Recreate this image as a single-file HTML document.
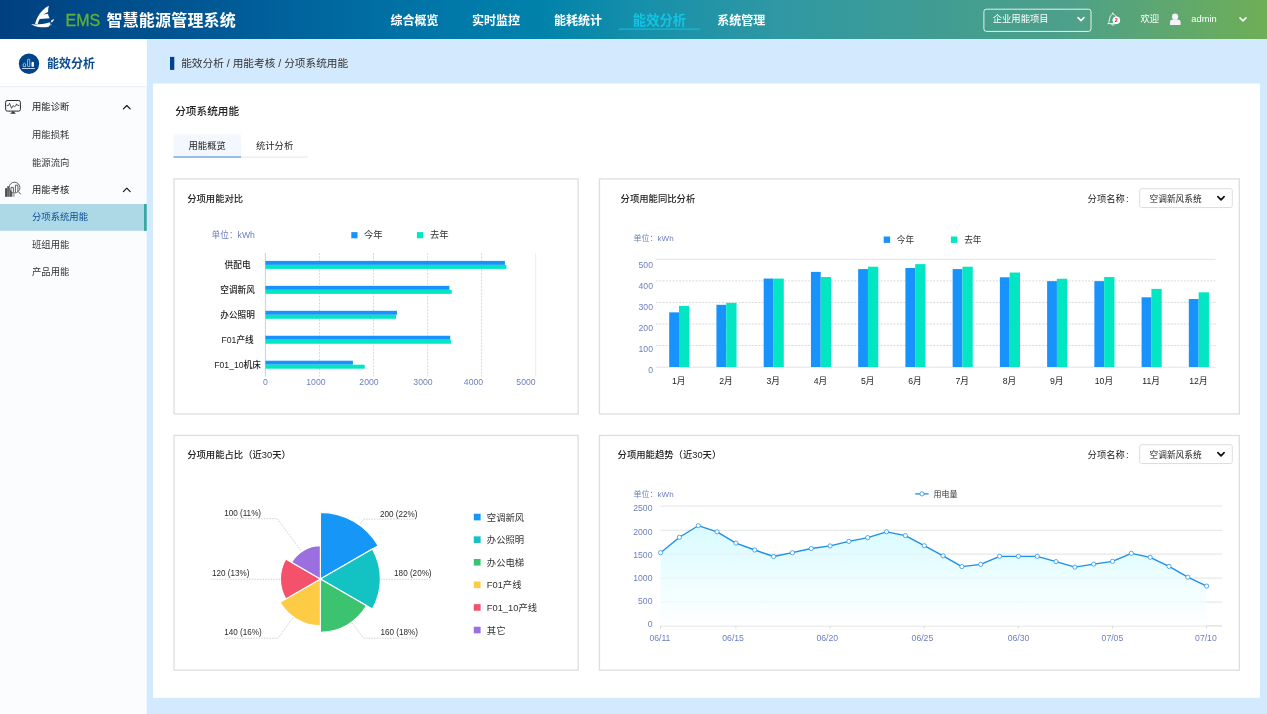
<!DOCTYPE html>
<html lang="zh-CN"><head><meta charset="utf-8"><title>EMS 智慧能源管理系统</title><style>
*{box-sizing:border-box;margin:0;padding:0}
html,body{width:1267px;height:714px;overflow:hidden}
body{background:#d3e9fd;font-family:"Liberation Sans","Noto Sans CJK SC",sans-serif;color:#333;position:relative;font-size:9.33px}
.abs{position:absolute;white-space:nowrap}
.t{position:absolute;white-space:nowrap;transform:translateY(-50%);line-height:1.2}
.tc{position:absolute;white-space:nowrap;transform:translate(-50%,-50%);line-height:1.2}
#hdr{position:absolute;left:0;top:0;width:1267px;height:39px}
#side{position:absolute;left:0;top:39px;width:146.7px;height:675px;background:#fafcfe}
#sidetop{position:absolute;left:0;top:0;width:146.7px;height:47.6px;background:#fff;border-bottom:1px solid #eef0f2}
#panel{position:absolute;left:153px;top:83.5px;width:1107px;height:614.3px;background:#fff}
.card{position:absolute;border:1.33px solid #e2e2e2;background:#fff}
svg{position:absolute;left:0;top:0;overflow:visible}
svg text{font-family:"Liberation Sans","Noto Sans CJK SC",sans-serif}
</style></head><body>
<svg width="1267" height="714" viewBox="0 0 1267 714"><defs><linearGradient id="hg" x1="0" y1="0" x2="1" y2="0"><stop offset="0%" stop-color="#004080"/><stop offset="19%" stop-color="#005c98"/><stop offset="34.7%" stop-color="#0077a8"/><stop offset="42.6%" stop-color="#0082ab"/><stop offset="50.5%" stop-color="#1690aa"/><stop offset="61.6%" stop-color="#2f98a3"/><stop offset="77.3%" stop-color="#459e8e"/><stop offset="84.2%" stop-color="#4da08a"/><stop offset="100%" stop-color="#6fae56"/></linearGradient></defs><rect x="0" y="39" width="146.7" height="675" fill="#fafcfe"/>
<rect x="0" y="39" width="146.7" height="47.3" fill="#fff"/>
<rect x="0" y="86.2" width="146.7" height=".9" fill="#eceef1"/>
<rect x="0" y="204" width="146.7" height="26.8" fill="#add8e6"/>
<rect x="144" y="204" width="2.7" height="26.8" fill="#3ba6a3"/>
<rect x="170" y="56.9" width="4.3" height="13" fill="#004489"/>
<rect x="153" y="83.5" width="1107" height="614.3" fill="#fff"/>
<rect x="173.5" y="134.4" width="67.5" height="22.2" fill="#f3f8fe"/>
<rect x="173.5" y="156.5" width="67.5" height="1" fill="#3b82c9"/>
<rect x="241" y="156.7" width="67" height=".8" fill="#dfe2e6"/>
<rect x="174.05" y="178.85" width="404.1" height="235.1" fill="#fff" stroke="#dedede" stroke-width="1.3"/>
<rect x="599.45" y="178.85" width="639.9" height="235.1" fill="#fff" stroke="#dedede" stroke-width="1.3"/>
<rect x="174.05" y="435.45" width="404.1" height="234.7" fill="#fff" stroke="#dedede" stroke-width="1.3"/>
<rect x="599.45" y="435.45" width="639.9" height="234.7" fill="#fff" stroke="#dedede" stroke-width="1.3"/>
<rect x="1139.7" y="188.65" width="92.6" height="18.9" rx="2" fill="#fff" stroke="#d9d9d9" stroke-width=".9"/>
<rect x="1139.7" y="444.65" width="92.6" height="18.9" rx="2" fill="#fff" stroke="#d9d9d9" stroke-width=".9"/>
<rect x="0" y="0" width="1267" height="39" fill="url(#hg)"/>
<rect x="619" y="28.6" width="81" height="1" fill="#12c4e4"/>
<rect x="983.9" y="9.2" width="107.1" height="22.2" rx="2.5" fill="none" stroke="#fff" stroke-opacity=".85" stroke-width="1"/></svg>
<div id="hdr">
<svg width="1267" height="39" viewBox="0 0 1267 39">
<g fill="#fff">
<path d="M48.9 5.8 C44.6 7.8 40.6 11.8 37.6 17.2 C36.1 20.2 35.3 22.4 35.1 24 L37.7 24.1 C38 22.4 38.7 20.6 39.7 19 L49.7 18.3 C48.7 16.7 48.2 15.2 48 13.7 L43.2 14.5 L48.1 12.1 C48 10 48.3 7.8 48.9 5.8 Z"/>
<path d="M31 24.3 C36 24.7 44 24.3 50.3 22.2 C50.5 24 49.7 26 48.7 26.8 C44 27.9 38 27.3 34.6 25.9 Z"/>
<path d="M51.1 20.5 L54 18.9 C53.7 20.7 52.6 22.1 51.2 22.5 Z"/>
<circle cx="50.9" cy="24.8" r=".6"/>
</g>
</svg>
<div class="t" style="left:65.5px;top:20.5px;font-size:16px;color:#5fb233;-webkit-text-stroke:.3px #5fb233">EMS</div>
<div class="t" style="left:106.4px;top:20.9px;font-size:16px;font-weight:bold;color:#fff;letter-spacing:0.2px">智慧能源管理系统</div>
<div class="tc" style="left:414.4px;top:21.1px;font-size:12px;font-weight:bold;color:#fff;">综合概览</div>
<div class="tc" style="left:496px;top:21.1px;font-size:12px;font-weight:bold;color:#fff;">实时监控</div>
<div class="tc" style="left:578px;top:21.1px;font-size:12px;font-weight:bold;color:#fff;">能耗统计</div>
<div class="tc" style="left:659.5px;top:20.6px;font-size:13.33px;font-weight:bold;color:#12c4e4;">能效分析</div>
<div class="tc" style="left:741.2px;top:21.1px;font-size:12px;font-weight:bold;color:#fff;">系统管理</div>
<div class="t" style="left:992.7px;top:19.8px;font-size:9.33px;color:#fff;">企业用能项目</div>
<svg width="1267" height="39" viewBox="0 0 1267 39">
<path d="M1078 17.6 L1081 20.6 L1084 17.6" fill="none" stroke="#fff" stroke-width="1.5" stroke-linecap="round" stroke-linejoin="round"/>
<path d="M1240 17.9 L1243 20.9 L1246 17.9" fill="none" stroke="#fff" stroke-width="1.5" stroke-linecap="round" stroke-linejoin="round"/>
<g fill="none" stroke="#fff" stroke-width=".9" stroke-linejoin="round" stroke-linecap="round">
<path d="M1108 23.6 L1117 23.6 M1108.6 23.4 C1109.8 21 1108.8 15.6 1112.8 13.8 C1115.4 14.6 1116.2 16.4 1116.4 18"/>
<path d="M1112.8 13.8 L1112.8 12.9"/>
<path d="M1111.6 24.4 C1112 25.7 1113.6 25.7 1114 24.4"/>
</g>
<circle cx="1116.3" cy="20.2" r="3.8" fill="#fff"/>
<g fill="#f4f4f8">
<circle cx="1175.1" cy="16.7" r="3.1"/>
<path d="M1170 25 L1170 22 C1170 20.4 1171.2 19.6 1172.6 19.5 L1177.8 19.5 C1179.3 19.6 1180.6 20.4 1180.6 22 L1180.6 25Z"/>
</g>
</svg>
<div class="tc" style="left:1116.3px;top:20.2px;font-size:5.4px;font-weight:bold;color:#e0142c;">2</div>
<div class="t" style="left:1140.4px;top:19.8px;font-size:9.33px;color:#fff;">欢迎</div>
<div class="t" style="left:1191.3px;top:19.6px;font-size:9.33px;color:#fff;">admin</div>
</div>
<svg width="147" height="300" viewBox="0 0 147 300">
<circle cx="29" cy="63.8" r="10.2" fill="#004489"/>
<g fill="none" stroke="#fff" stroke-width=".6">
<path d="M23.2 66.6 V64 Q24.4 62.4 25.6 64 V66.6 Z"/>
<rect x="27.6" y="59.2" width="2.2" height="7.4" rx=".7"/>
</g>
<path d="M31.5 66.8 V62.4 Q32.7 61 33.9 62.4 V66.8Z" fill="#fff"/>
<rect x="22.1" y="68.1" width="12.8" height=".75" fill="#fff"/>
<g fill="none" stroke="#2a2a2a" stroke-width="1" stroke-linejoin="round" stroke-linecap="round">
<rect x="5.6" y="100.5" width="14.8" height="10.6" rx="1.7"/>
<path d="M11 113.4 L15.4 113.4 L13.2 111.4Z" fill="#2a2a2a" stroke-width=".5"/>
<path d="M7 105.5 L8.7 105.4 L9.5 103.2 L11.6 108.3 L13.1 105.6 L14.6 106.7 L15.7 106 L16.6 103.9 L17.8 105.5 L18.9 105.5" stroke-width=".8"/>
<path d="M123.4 108.9 L126.8 105.5 L130.2 108.9" stroke-width="1.15" stroke="#111"/>
<path d="M123.4 191.6 L126.8 188.2 L130.2 191.6" stroke-width="1.15" stroke="#111"/>
</g>
<rect x="5.1" y="188.2" width="2" height="8.6" fill="#4a4a4a"/>
<rect x="7.1" y="186.2" width="2.7" height="10.6" fill="#6a6a6a"/>
<rect x="9.8" y="189" width="2.4" height="7.8" fill="#5a5a5a"/>
<rect x="12.4" y="193.6" width="2.3" height="3.2" fill="#b0b0b0"/>
<circle cx="14.5" cy="187.6" r="5.4" fill="#fafcfe" stroke="#222" stroke-width=".7"/>
<path d="M18.5 191.8 L20.8 194.3" stroke="#444" stroke-width=".9" fill="none"/>
<path d="M11 192 V187.4 H13.4 V192.6 M15.4 192.4 V185.2 H17.9 V191.6" stroke="#222" stroke-width=".7" fill="none"/>
</svg>
<div class="t" style="left:47px;top:64.3px;font-size:12px;font-weight:bold;color:#0a4c8e;">能效分析</div>
<div class="t" style="left:32px;top:107.9px;font-size:9.33px;color:#222;">用能诊断</div>
<div class="t" style="left:32px;top:136.3px;font-size:9.33px;color:#333;">用能损耗</div>
<div class="t" style="left:32px;top:164.4px;font-size:9.33px;color:#333;">能源流向</div>
<div class="t" style="left:32px;top:190.9px;font-size:9.33px;color:#222;">用能考核</div>
<div class="t" style="left:32px;top:218px;font-size:9.33px;color:#0a4f96;">分项系统用能</div>
<div class="t" style="left:32px;top:245.7px;font-size:9.33px;color:#333;">班组用能</div>
<div class="t" style="left:32px;top:272.6px;font-size:9.33px;color:#333;">产品用能</div>
<div class="t" style="left:181.2px;top:62.9px;font-size:10.67px;color:#333;">能效分析 / 用能考核 / 分项系统用能</div>
<div class="t" style="left:175.2px;top:111.2px;font-size:10.67px;font-weight:500;color:#222;">分项系统用能</div>
<div class="tc" style="left:207.2px;top:147px;font-size:9.33px;color:#222;">用能概览</div>
<div class="tc" style="left:274.6px;top:146.5px;font-size:9.33px;color:#222;">统计分析</div>
<div class="t" style="left:187.2px;top:199.9px;font-size:9.33px;font-weight:500;color:#222;">分项用能对比</div>
<div class="t" style="left:620.6px;top:199.9px;font-size:9.33px;font-weight:500;color:#222;">分项用能同比分析</div>
<div class="t" style="left:187.2px;top:456.4px;font-size:9.33px;font-weight:500;color:#222;">分项用能占比（近30天）</div>
<div class="t" style="left:617.6px;top:456.4px;font-size:9.33px;font-weight:500;color:#222;">分项用能趋势（近30天）</div>
<div class="t" style="left:1087.6px;top:199.7px;font-size:9.33px;color:#222;">分项名称<span style="margin-left:1px">:</span></div>
<div class="t" style="left:1149.6px;top:199.4px;font-size:8.67px;color:#222;">空调新风系统</div>
<div class="t" style="left:1087.6px;top:455.6px;font-size:9.33px;color:#222;">分项名称<span style="margin-left:1px">:</span></div>
<div class="t" style="left:1149.6px;top:455.3px;font-size:8.67px;color:#222;">空调新风系统</div>
<svg width="1267" height="714" viewBox="0 0 1267 714"><text x="211.6" y="235" font-size="8.67" fill="#6e7ebf" text-anchor="start" dominant-baseline="central" >单位：kWh</text>
<rect x="351.3" y="232.1" width="6.2" height="6.2" fill="#1793fb"/>
<text x="364" y="235.1" font-size="9.33" fill="#333" text-anchor="start" dominant-baseline="central" >今年</text>
<rect x="416.9" y="232.1" width="6.2" height="6.2" fill="#02e6c4"/>
<text x="430" y="235.1" font-size="9.33" fill="#333" text-anchor="start" dominant-baseline="central" >去年</text>
<path d="M265.4 253 V376.8" stroke="#c9cee2" stroke-width="1" fill="none"/>
<path d="M319.5 253 V376.6" stroke="#c8c8c8" stroke-width=".7" stroke-dasharray="2 1.3" fill="none"/>
<path d="M373.5 253 V376.6" stroke="#c8c8c8" stroke-width=".7" stroke-dasharray="2 1.3" fill="none"/>
<path d="M427.6 253 V376.6" stroke="#c8c8c8" stroke-width=".7" stroke-dasharray="2 1.3" fill="none"/>
<path d="M481.6 253 V376.6" stroke="#c8c8c8" stroke-width=".7" stroke-dasharray="2 1.3" fill="none"/>
<path d="M535.7 253 V376.6" stroke="#e6e6ec" stroke-width=".8" fill="none"/>
<text x="237.6" y="265.3" font-size="8.67" fill="#222" text-anchor="middle" dominant-baseline="central" font-weight="500">供配电</text>
<rect x="265.4" y="260.9" width="239.5" height="4" fill="#1793fb"/>
<rect x="265.4" y="264.9" width="241" height="4" fill="#02e6c4"/>
<text x="237.6" y="290.25" font-size="8.67" fill="#222" text-anchor="middle" dominant-baseline="central" font-weight="500">空调新风</text>
<rect x="265.4" y="285.85" width="184" height="4" fill="#1793fb"/>
<rect x="265.4" y="289.85" width="186.3" height="4" fill="#02e6c4"/>
<text x="237.6" y="315.2" font-size="8.67" fill="#222" text-anchor="middle" dominant-baseline="central" font-weight="500">办公照明</text>
<rect x="265.4" y="310.8" width="131.6" height="4" fill="#1793fb"/>
<rect x="265.4" y="314.8" width="130.6" height="4" fill="#02e6c4"/>
<text x="237.6" y="340.15" font-size="8.67" fill="#222" text-anchor="middle" dominant-baseline="central" font-weight="500">F01产线</text>
<rect x="265.4" y="335.75" width="184.8" height="4" fill="#1793fb"/>
<rect x="265.4" y="339.75" width="185.5" height="4" fill="#02e6c4"/>
<text x="237.6" y="365.1" font-size="8.67" fill="#222" text-anchor="middle" dominant-baseline="central" font-weight="500">F01_10机床</text>
<rect x="265.4" y="360.7" width="87.5" height="4" fill="#1793fb"/>
<rect x="265.4" y="364.7" width="99.3" height="4" fill="#02e6c4"/>
<text x="265.4" y="382.2" font-size="8.67" fill="#6e7ebf" text-anchor="middle" dominant-baseline="central" >0</text>
<text x="315.9" y="382.2" font-size="8.67" fill="#6e7ebf" text-anchor="middle" dominant-baseline="central" >1000</text>
<text x="369" y="382.2" font-size="8.67" fill="#6e7ebf" text-anchor="middle" dominant-baseline="central" >2000</text>
<text x="423" y="382.2" font-size="8.67" fill="#6e7ebf" text-anchor="middle" dominant-baseline="central" >3000</text>
<text x="473.5" y="382.2" font-size="8.67" fill="#6e7ebf" text-anchor="middle" dominant-baseline="central" >4000</text>
<text x="526" y="382.2" font-size="8.67" fill="#6e7ebf" text-anchor="middle" dominant-baseline="central" >5000</text>
<text x="633.6" y="238.4" font-size="8" fill="#6e7ebf" text-anchor="start" dominant-baseline="central" >单位：kWh</text>
<rect x="883.7" y="236.5" width="6.4" height="6.4" fill="#1793fb"/>
<text x="896.8" y="239.7" font-size="8.67" fill="#333" text-anchor="start" dominant-baseline="central" >今年</text>
<rect x="950.9" y="236.5" width="6.4" height="6.4" fill="#02e6c4"/>
<text x="964.2" y="239.7" font-size="8.67" fill="#333" text-anchor="start" dominant-baseline="central" >去年</text>
<path d="M656 259.4 H1215.5" stroke="#dfe3f0" stroke-width="1" fill="none"/>
<path d="M656 345.48 H1215.5" stroke="#c8c8c8" stroke-width=".7" stroke-dasharray="2 1.3" fill="none"/>
<path d="M656 323.96 H1215.5" stroke="#c8c8c8" stroke-width=".7" stroke-dasharray="2 1.3" fill="none"/>
<path d="M656 302.44 H1215.5" stroke="#c8c8c8" stroke-width=".7" stroke-dasharray="2 1.3" fill="none"/>
<path d="M656 280.92 H1215.5" stroke="#c8c8c8" stroke-width=".7" stroke-dasharray="2 1.3" fill="none"/>
<path d="M656 367.2 H1215.5" stroke="#e0e3ee" stroke-width="1" fill="none"/>
<text x="653" y="265" font-size="8.67" fill="#6e7ebf" text-anchor="end" dominant-baseline="central" >500</text>
<text x="653" y="285.9" font-size="8.67" fill="#6e7ebf" text-anchor="end" dominant-baseline="central" >400</text>
<text x="653" y="306.7" font-size="8.67" fill="#6e7ebf" text-anchor="end" dominant-baseline="central" >300</text>
<text x="653" y="327.9" font-size="8.67" fill="#6e7ebf" text-anchor="end" dominant-baseline="central" >200</text>
<text x="653" y="348.8" font-size="8.67" fill="#6e7ebf" text-anchor="end" dominant-baseline="central" >100</text>
<text x="653" y="369.8" font-size="8.67" fill="#6e7ebf" text-anchor="end" dominant-baseline="central" >0</text>
<rect x="669.2" y="312.34" width="9.8" height="54.66" fill="#1793fb"/>
<rect x="679" y="305.88" width="10.3" height="61.12" fill="#02e6c4"/>
<text x="678.8" y="380.9" font-size="8.67" fill="#222" text-anchor="middle" dominant-baseline="central" >1月</text>
<rect x="716.44" y="304.81" width="9.8" height="62.19" fill="#1793fb"/>
<rect x="726.24" y="302.87" width="10.3" height="64.13" fill="#02e6c4"/>
<text x="726.04" y="380.9" font-size="8.67" fill="#222" text-anchor="middle" dominant-baseline="central" >2月</text>
<rect x="763.68" y="278.55" width="9.8" height="88.45" fill="#1793fb"/>
<rect x="773.48" y="278.55" width="10.3" height="88.45" fill="#02e6c4"/>
<text x="773.28" y="380.9" font-size="8.67" fill="#222" text-anchor="middle" dominant-baseline="central" >3月</text>
<rect x="810.92" y="271.88" width="9.8" height="95.12" fill="#1793fb"/>
<rect x="820.72" y="277.05" width="10.3" height="89.95" fill="#02e6c4"/>
<text x="820.52" y="380.9" font-size="8.67" fill="#222" text-anchor="middle" dominant-baseline="central" >4月</text>
<rect x="858.16" y="269.08" width="9.8" height="97.92" fill="#1793fb"/>
<rect x="867.96" y="266.72" width="10.3" height="100.28" fill="#02e6c4"/>
<text x="867.76" y="380.9" font-size="8.67" fill="#222" text-anchor="middle" dominant-baseline="central" >5月</text>
<rect x="905.4" y="268.01" width="9.8" height="98.99" fill="#1793fb"/>
<rect x="915.2" y="264.13" width="10.3" height="102.87" fill="#02e6c4"/>
<text x="915" y="380.9" font-size="8.67" fill="#222" text-anchor="middle" dominant-baseline="central" >6月</text>
<rect x="952.64" y="269.08" width="9.8" height="97.92" fill="#1793fb"/>
<rect x="962.44" y="266.72" width="10.3" height="100.28" fill="#02e6c4"/>
<text x="962.24" y="380.9" font-size="8.67" fill="#222" text-anchor="middle" dominant-baseline="central" >7月</text>
<rect x="999.88" y="277.26" width="9.8" height="89.74" fill="#1793fb"/>
<rect x="1009.68" y="272.53" width="10.3" height="94.47" fill="#02e6c4"/>
<text x="1009.48" y="380.9" font-size="8.67" fill="#222" text-anchor="middle" dominant-baseline="central" >8月</text>
<rect x="1047.12" y="281.14" width="9.8" height="85.86" fill="#1793fb"/>
<rect x="1056.92" y="278.77" width="10.3" height="88.23" fill="#02e6c4"/>
<text x="1056.72" y="380.9" font-size="8.67" fill="#222" text-anchor="middle" dominant-baseline="central" >9月</text>
<rect x="1094.36" y="281.14" width="9.8" height="85.86" fill="#1793fb"/>
<rect x="1104.16" y="277.05" width="10.3" height="89.95" fill="#02e6c4"/>
<text x="1103.96" y="380.9" font-size="8.67" fill="#222" text-anchor="middle" dominant-baseline="central" >10月</text>
<rect x="1141.6" y="297.28" width="9.8" height="69.72" fill="#1793fb"/>
<rect x="1151.4" y="288.88" width="10.3" height="78.12" fill="#02e6c4"/>
<text x="1151.2" y="380.9" font-size="8.67" fill="#222" text-anchor="middle" dominant-baseline="central" >11月</text>
<rect x="1188.84" y="299" width="9.8" height="68" fill="#1793fb"/>
<rect x="1198.64" y="292.33" width="10.3" height="74.67" fill="#02e6c4"/>
<text x="1198.44" y="380.9" font-size="8.67" fill="#222" text-anchor="middle" dominant-baseline="central" >12月</text>
<path d="M320.4 579 L320.4 512.33 A66.67 66.67 0 0 1 378.14 545.67 Z" fill="#1696f6" stroke="#fff" stroke-width="1.2" stroke-linejoin="round"/>
<path d="M320.4 579 L372.36 549 A60 60 0 0 1 372.36 609 Z" fill="#13c2c2" stroke="#fff" stroke-width="1.2" stroke-linejoin="round"/>
<path d="M320.4 579 L366.59 605.67 A53.33 53.33 0 0 1 320.4 632.33 Z" fill="#3cc36f" stroke="#fff" stroke-width="1.2" stroke-linejoin="round"/>
<path d="M320.4 579 L320.4 625.67 A46.67 46.67 0 0 1 279.99 602.33 Z" fill="#fecb45" stroke="#fff" stroke-width="1.2" stroke-linejoin="round"/>
<path d="M320.4 579 L285.76 599 A40 40 0 0 1 285.76 559 Z" fill="#f4516c" stroke="#fff" stroke-width="1.2" stroke-linejoin="round"/>
<path d="M320.4 579 L291.53 562.33 A33.33 33.33 0 0 1 320.4 545.67 Z" fill="#9c6fe0" stroke="#fff" stroke-width="1.2" stroke-linejoin="round"/>
<path d="M360.3 523.8 L363.6 519.1 H417.4" stroke="#c4c7d0" stroke-width=".8" stroke-dasharray="1.6 1.1" fill="none"/>
<path d="M380.6 579.2 H431.3" stroke="#c4c7d0" stroke-width=".8" stroke-dasharray="1.6 1.1" fill="none"/>
<path d="M352 622.7 L363.6 638.2 H417.4" stroke="#c4c7d0" stroke-width=".8" stroke-dasharray="1.6 1.1" fill="none"/>
<path d="M293 617.8 L278 638.2 H224.2" stroke="#c4c7d0" stroke-width=".8" stroke-dasharray="1.6 1.1" fill="none"/>
<path d="M280.2 579.2 H211.2" stroke="#c4c7d0" stroke-width=".8" stroke-dasharray="1.6 1.1" fill="none"/>
<path d="M300.9 550.5 L277.3 518.7 H224.2" stroke="#c4c7d0" stroke-width=".8" stroke-dasharray="1.6 1.1" fill="none"/>
<text x="380" y="514" font-size="8.15" fill="#2a2a2a" text-anchor="start" dominant-baseline="central" >200 (22%)</text>
<text x="394.1" y="573.7" font-size="8.15" fill="#2a2a2a" text-anchor="start" dominant-baseline="central" >180 (20%)</text>
<text x="380.4" y="632.5" font-size="8.15" fill="#2a2a2a" text-anchor="start" dominant-baseline="central" >160 (18%)</text>
<text x="224.2" y="632.5" font-size="8.15" fill="#2a2a2a" text-anchor="start" dominant-baseline="central" >140 (16%)</text>
<text x="211.9" y="573.7" font-size="8.15" fill="#2a2a2a" text-anchor="start" dominant-baseline="central" >120 (13%)</text>
<text x="224.2" y="513.7" font-size="8.15" fill="#2a2a2a" text-anchor="start" dominant-baseline="central" >100 (11%)</text>
<rect x="473.8" y="513.75" width="6.8" height="6.6" fill="#1696f6"/>
<text x="486.8" y="517.55" font-size="9.33" fill="#333" text-anchor="start" dominant-baseline="central" >空调新风</text>
<rect x="473.8" y="536.35" width="6.8" height="6.6" fill="#13c2c2"/>
<text x="486.8" y="540.15" font-size="9.33" fill="#333" text-anchor="start" dominant-baseline="central" >办公照明</text>
<rect x="473.8" y="558.95" width="6.8" height="6.6" fill="#3cc36f"/>
<text x="486.8" y="562.75" font-size="9.33" fill="#333" text-anchor="start" dominant-baseline="central" >办公电梯</text>
<rect x="473.8" y="581.55" width="6.8" height="6.6" fill="#fecb45"/>
<text x="486.8" y="585.35" font-size="9.33" fill="#333" text-anchor="start" dominant-baseline="central" >F01产线</text>
<rect x="473.8" y="604.15" width="6.8" height="6.6" fill="#f4516c"/>
<text x="486.8" y="607.95" font-size="9.33" fill="#333" text-anchor="start" dominant-baseline="central" >F01_10产线</text>
<rect x="473.8" y="626.75" width="6.8" height="6.6" fill="#9c6fe0"/>
<text x="486.8" y="630.55" font-size="9.33" fill="#333" text-anchor="start" dominant-baseline="central" >其它</text>
<text x="633.6" y="494.1" font-size="8" fill="#6e7ebf" text-anchor="start" dominant-baseline="central" >单位：kWh</text>
<path d="M915.2 493.9 H928.6" stroke="#1c8fe8" stroke-width="1.3" fill="none"/>
<circle cx="922" cy="493.9" r="2.1" fill="#fff" stroke="#1c8fe8" stroke-width=".8"/>
<text x="933.6" y="494.6" font-size="8" fill="#333" text-anchor="start" dominant-baseline="central" >用电量</text>
<path d="M660.6 506 H1222" stroke="#e9e9e9" stroke-width="1.25" fill="none"/>
<path d="M660.6 530.3 H1222" stroke="#e9e9e9" stroke-width="1.25" fill="none"/>
<path d="M660.6 554.2 H1222" stroke="#e9e9e9" stroke-width="1.25" fill="none"/>
<path d="M660.6 578.1 H1222" stroke="#e9e9e9" stroke-width="1.25" fill="none"/>
<path d="M660.6 602 H1222" stroke="#e9e9e9" stroke-width="1.25" fill="none"/>
<path d="M660.6 625.8 H1222" stroke="#dedede" stroke-width="1.25" fill="none"/>
<text x="652.5" y="507.8" font-size="8.67" fill="#6e7ebf" text-anchor="end" dominant-baseline="central" >2500</text>
<text x="652.5" y="532" font-size="8.67" fill="#6e7ebf" text-anchor="end" dominant-baseline="central" >2000</text>
<text x="652.5" y="554.8" font-size="8.67" fill="#6e7ebf" text-anchor="end" dominant-baseline="central" >1500</text>
<text x="652.5" y="578" font-size="8.67" fill="#6e7ebf" text-anchor="end" dominant-baseline="central" >1000</text>
<text x="652.5" y="601" font-size="8.67" fill="#6e7ebf" text-anchor="end" dominant-baseline="central" >500</text>
<text x="652.5" y="624" font-size="8.67" fill="#6e7ebf" text-anchor="end" dominant-baseline="central" >0</text>
<defs><linearGradient id="ag" x1="0" y1="0" x2="0" y2="1"><stop offset="0" stop-color="#d4fbff"/><stop offset="1" stop-color="#ffffff"/></linearGradient></defs>
<polygon points="660.6,552.7 679.43,537.3 698.26,525.7 717.09,531.8 735.92,543.1 754.75,550 773.58,556.5 792.41,552.7 811.24,548.5 830.07,545.9 848.9,541.4 867.73,537.6 886.56,531.8 905.39,535.6 924.22,545.7 943.05,555.8 961.88,566.6 980.71,564.4 999.54,556.3 1018.37,556.3 1037.2,556.3 1056.03,561.6 1074.86,567.1 1093.69,564.1 1112.52,561.3 1131.35,553.3 1150.18,557.3 1169.01,566.4 1187.84,577.2 1206.67,586.1 1206.67,625.8 660.6,625.8" fill="url(#ag)" fill-opacity=".9"/>
<path d="M660.6 530.3 H1222" stroke="#e6eef0" stroke-width=".6" fill="none" opacity=".7"/>
<path d="M660.6 554.2 H1222" stroke="#e6eef0" stroke-width=".6" fill="none" opacity=".7"/>
<path d="M660.6 578.1 H1222" stroke="#e6eef0" stroke-width=".6" fill="none" opacity=".7"/>
<path d="M660.6 602 H1222" stroke="#e6eef0" stroke-width=".6" fill="none" opacity=".7"/>
<polyline points="660.6,552.7 679.43,537.3 698.26,525.7 717.09,531.8 735.92,543.1 754.75,550 773.58,556.5 792.41,552.7 811.24,548.5 830.07,545.9 848.9,541.4 867.73,537.6 886.56,531.8 905.39,535.6 924.22,545.7 943.05,555.8 961.88,566.6 980.71,564.4 999.54,556.3 1018.37,556.3 1037.2,556.3 1056.03,561.6 1074.86,567.1 1093.69,564.1 1112.52,561.3 1131.35,553.3 1150.18,557.3 1169.01,566.4 1187.84,577.2 1206.67,586.1" fill="none" stroke="#1c8fe8" stroke-width="1.35" stroke-linejoin="round"/>
<circle cx="660.6" cy="552.7" r="2.1" fill="#fff" stroke="#2b95ea" stroke-width=".8"/>
<circle cx="679.43" cy="537.3" r="2.1" fill="#fff" stroke="#2b95ea" stroke-width=".8"/>
<circle cx="698.26" cy="525.7" r="2.1" fill="#fff" stroke="#2b95ea" stroke-width=".8"/>
<circle cx="717.09" cy="531.8" r="2.1" fill="#fff" stroke="#2b95ea" stroke-width=".8"/>
<circle cx="735.92" cy="543.1" r="2.1" fill="#fff" stroke="#2b95ea" stroke-width=".8"/>
<circle cx="754.75" cy="550" r="2.1" fill="#fff" stroke="#2b95ea" stroke-width=".8"/>
<circle cx="773.58" cy="556.5" r="2.1" fill="#fff" stroke="#2b95ea" stroke-width=".8"/>
<circle cx="792.41" cy="552.7" r="2.1" fill="#fff" stroke="#2b95ea" stroke-width=".8"/>
<circle cx="811.24" cy="548.5" r="2.1" fill="#fff" stroke="#2b95ea" stroke-width=".8"/>
<circle cx="830.07" cy="545.9" r="2.1" fill="#fff" stroke="#2b95ea" stroke-width=".8"/>
<circle cx="848.9" cy="541.4" r="2.1" fill="#fff" stroke="#2b95ea" stroke-width=".8"/>
<circle cx="867.73" cy="537.6" r="2.1" fill="#fff" stroke="#2b95ea" stroke-width=".8"/>
<circle cx="886.56" cy="531.8" r="2.1" fill="#fff" stroke="#2b95ea" stroke-width=".8"/>
<circle cx="905.39" cy="535.6" r="2.1" fill="#fff" stroke="#2b95ea" stroke-width=".8"/>
<circle cx="924.22" cy="545.7" r="2.1" fill="#fff" stroke="#2b95ea" stroke-width=".8"/>
<circle cx="943.05" cy="555.8" r="2.1" fill="#fff" stroke="#2b95ea" stroke-width=".8"/>
<circle cx="961.88" cy="566.6" r="2.1" fill="#fff" stroke="#2b95ea" stroke-width=".8"/>
<circle cx="980.71" cy="564.4" r="2.1" fill="#fff" stroke="#2b95ea" stroke-width=".8"/>
<circle cx="999.54" cy="556.3" r="2.1" fill="#fff" stroke="#2b95ea" stroke-width=".8"/>
<circle cx="1018.37" cy="556.3" r="2.1" fill="#fff" stroke="#2b95ea" stroke-width=".8"/>
<circle cx="1037.2" cy="556.3" r="2.1" fill="#fff" stroke="#2b95ea" stroke-width=".8"/>
<circle cx="1056.03" cy="561.6" r="2.1" fill="#fff" stroke="#2b95ea" stroke-width=".8"/>
<circle cx="1074.86" cy="567.1" r="2.1" fill="#fff" stroke="#2b95ea" stroke-width=".8"/>
<circle cx="1093.69" cy="564.1" r="2.1" fill="#fff" stroke="#2b95ea" stroke-width=".8"/>
<circle cx="1112.52" cy="561.3" r="2.1" fill="#fff" stroke="#2b95ea" stroke-width=".8"/>
<circle cx="1131.35" cy="553.3" r="2.1" fill="#fff" stroke="#2b95ea" stroke-width=".8"/>
<circle cx="1150.18" cy="557.3" r="2.1" fill="#fff" stroke="#2b95ea" stroke-width=".8"/>
<circle cx="1169.01" cy="566.4" r="2.1" fill="#fff" stroke="#2b95ea" stroke-width=".8"/>
<circle cx="1187.84" cy="577.2" r="2.1" fill="#fff" stroke="#2b95ea" stroke-width=".8"/>
<circle cx="1206.67" cy="586.1" r="2.1" fill="#fff" stroke="#2b95ea" stroke-width=".8"/>
<path d="M660.6 625.8 V628.6" stroke="#d8d8d8" stroke-width=".9" fill="none"/>
<text x="659.9" y="638.4" font-size="8.67" fill="#6e7ebf" text-anchor="middle" dominant-baseline="central" >06/11</text>
<path d="M735.92 625.8 V628.6" stroke="#d8d8d8" stroke-width=".9" fill="none"/>
<text x="733.1" y="638.4" font-size="8.67" fill="#6e7ebf" text-anchor="middle" dominant-baseline="central" >06/15</text>
<path d="M830.07 625.8 V628.6" stroke="#d8d8d8" stroke-width=".9" fill="none"/>
<text x="827.3" y="638.4" font-size="8.67" fill="#6e7ebf" text-anchor="middle" dominant-baseline="central" >06/20</text>
<path d="M924.22 625.8 V628.6" stroke="#d8d8d8" stroke-width=".9" fill="none"/>
<text x="922.4" y="638.4" font-size="8.67" fill="#6e7ebf" text-anchor="middle" dominant-baseline="central" >06/25</text>
<path d="M1018.37 625.8 V628.6" stroke="#d8d8d8" stroke-width=".9" fill="none"/>
<text x="1018.5" y="638.4" font-size="8.67" fill="#6e7ebf" text-anchor="middle" dominant-baseline="central" >06/30</text>
<path d="M1112.52 625.8 V628.6" stroke="#d8d8d8" stroke-width=".9" fill="none"/>
<text x="1112.4" y="638.4" font-size="8.67" fill="#6e7ebf" text-anchor="middle" dominant-baseline="central" >07/05</text>
<path d="M1206.67 625.8 V628.6" stroke="#d8d8d8" stroke-width=".9" fill="none"/>
<text x="1205.9" y="638.4" font-size="8.67" fill="#6e7ebf" text-anchor="middle" dominant-baseline="central" >07/10</text>
<path d="M1217.9 196.7 L1221 199.9 L1224.1 196.7" fill="none" stroke="#111" stroke-width="1.7" stroke-linecap="round" stroke-linejoin="round"/>
<path d="M1217.9 452.6 L1221 455.8 L1224.1 452.6" fill="none" stroke="#111" stroke-width="1.7" stroke-linecap="round" stroke-linejoin="round"/></svg>
</body></html>
